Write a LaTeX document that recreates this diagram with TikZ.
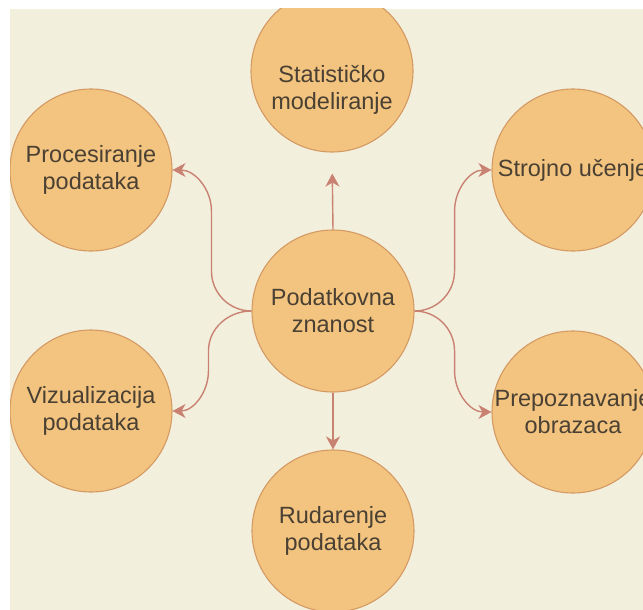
\documentclass[tikz,border=0pt]{standalone}
\usepackage{fontspec}
\setmainfont{Liberation Sans}
\usetikzlibrary{arrows.meta}
\definecolor{bgcream}{HTML}{F3EFDD}
\definecolor{bubfill}{HTML}{F3C47F}
\definecolor{bubline}{HTML}{D49A63}
\definecolor{edgecol}{HTML}{C98272}
\definecolor{txtcol}{HTML}{4A4033}
\tikzset{
  bub/.style={circle, draw=bubline, fill=bubfill, line width=1.1pt, minimum size=162pt, inner sep=0pt},
  lbl/.style={font=\fontsize{23.5}{27}\selectfont, text=txtcol, align=center, inner sep=0pt},
  arr/.style={draw=edgecol, line width=1.4pt, -{Stealth[length=13pt,width=14pt,inset=4pt]}}
}
\begin{document}
\begin{tikzpicture}[x=1pt,y=1pt]
\useasboundingbox (0,0) rectangle (643,-610);
\fill[white] (0,0) rectangle (643,-610);
\fill[bgcream] (10,-9) rectangle (643,-610);
\begin{scope}
\clip (10,-9) rectangle (643,-610);
\node[bub] (c) at (333,-311) {};
\node[bub] (stat) at (332,-71) {};
\node[bub] (proc) at (91,-170) {};
\node[bub] (viz) at (91,-411) {};
\node[bub] (rud) at (333,-531) {};
\node[bub] (stroj) at (573,-170) {};
\node[bub] (prep) at (573,-412) {};
\node[lbl] (tc) at (c) {Podatkovna\\znanost};
\node[lbl] (tstat) at (332,-90) {Statističko\\modeliranje};
\node[lbl] (tproc) at (proc) {Procesiranje\\podataka};
\node[lbl] (tviz) at (viz) {Vizualizacija\\podataka};
\node[lbl] (trud) at (rud) {Rudarenje\\podataka};
\node[lbl] (tstroj) at (stroj) {Strojno učenje};
\node[lbl] (tprep) at (prep) {Prepoznavanje\\obrazaca};
\draw[arr, shorten >=21pt] (c.north) -- (stat.south);
\draw[arr] (c.south) -- (rud.north);
\draw[arr] (c.west) to[out=180,in=-90] ++(-40,40) -- ++(0,60) to[out=90,in=0] (proc.east);
\draw[arr] (c.west) to[out=180,in=90] ++(-43,-40) -- ++(0,-20) to[out=-90,in=0] (viz.east);
\draw[arr] (c.east) to[out=0,in=-90] ++(40,40) -- ++(0,60) to[out=90,in=180] (stroj.west);
\draw[arr] (c.east) to[out=0,in=90] ++(40,-40) -- ++(0,-20) to[out=-90,in=180] (prep.west);
\end{scope}
\end{tikzpicture}
\end{document}
